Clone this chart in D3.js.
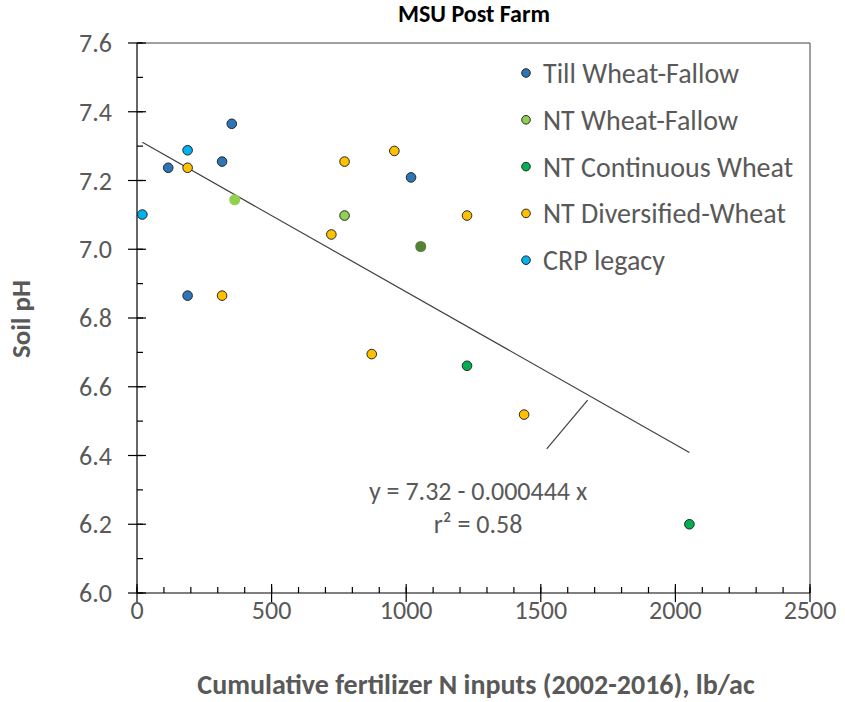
<!DOCTYPE html>
<html>
<head>
<meta charset="utf-8">
<script src="https://cdn.jsdelivr.net/npm/d3@7.9.0/dist/d3.min.js"></script>
<style>
  body { margin: 0; background: #fff; }
  svg { display: block; font-family: Carlito, Lato, sans-serif; }
</style>
</head>
<body>
<svg id="chart" width="845" height="702"></svg>
<script>
// series values
const seriesNames = ['Till Wheat-Fallow', 'NT Wheat-Fallow', 'NT Continuous Wheat', 'NT Diversified-Wheat', 'CRP legacy'];
const seriesColors = ['#2E75B6', '#92D050', '#00B050', '#FFC000', '#00B0F0'];

const tillX = [116, 352, 316, 188, 1018];
const tillY = [7.237, 7.365, 7.255, 6.865, 7.209];
const ntwfX = [771];
const ntwfY = [7.098];
const nccwX = [1226, 2052];
const nccwY = [6.661, 6.200];
const divX = [188, 316, 722, 771, 956, 1226, 872, 1438];
const divY = [7.237, 6.865, 7.043, 7.255, 7.286, 7.098, 6.695, 6.519];
const crpX = [20, 188];
const crpY = [7.101, 7.288];

// extra points drawn without outline (not in legend)
const plainX = [363, 1054];
const plainY = [7.144, 7.008];
const plainColors = ['#92D050', '#548235'];

const xTicks = [0, 500, 1000, 1500, 2000, 2500];
const yTicks = [6.0, 6.2, 6.4, 6.6, 6.8, 7.0, 7.2, 7.4, 7.6];

// trend line y = 7.32 - 0.000444 x
const intercept = 7.32, slope = -0.000444;
const trendX = [20, 2052];

const svg = d3.select('#chart');
const textColor = '#595959';

const x = d3.scaleLinear().domain([0, 2500]).range([137, 810]);
const y = d3.scaleLinear().domain([6, 7.6]).range([593, 43]);

// frame (top + right)
svg.append('path')
  .attr('d', `M${x(0)},${y(7.6)}H${x(2500)}V${y(6)}`)
  .attr('fill', 'none').attr('stroke', '#404040').attr('stroke-width', 1);

// minor ticks
const g = svg.append('g').attr('stroke', '#000').attr('stroke-width', 1.2);
d3.range(0, 2501, 100).forEach(v => {
  g.append('line').attr('x1', x(v)).attr('x2', x(v)).attr('y1', y(6)).attr('y2', y(6) - 6);
});
d3.range(60, 77, 1).forEach(k => {
  const v = k / 10;
  g.append('line').attr('x1', x(0)).attr('x2', x(0) + 6).attr('y1', y(v)).attr('y2', y(v));
});
// major ticks crossing the axes
xTicks.forEach(v => {
  g.append('line').attr('x1', x(v)).attr('x2', x(v)).attr('y1', y(6) - 9).attr('y2', y(6) + 9);
});
yTicks.forEach(v => {
  g.append('line').attr('x1', x(0) - 9).attr('x2', x(0) + 9).attr('y1', y(v)).attr('y2', y(v));
});
// axis lines
g.append('line').attr('x1', x(0)).attr('x2', x(2500)).attr('y1', y(6)).attr('y2', y(6));
g.append('line').attr('x1', x(0)).attr('x2', x(0)).attr('y1', y(6)).attr('y2', y(7.6));

// tick labels
svg.append('g').selectAll('text').data(xTicks).join('text')
  .attr('x', d => x(d)).attr('y', 619)
  .attr('text-anchor', 'middle').attr('font-size', 26).attr('fill', textColor)
  .text(d => d);
svg.append('g').selectAll('text').data(yTicks).join('text')
  .attr('x', 112).attr('y', d => y(d) + 9)
  .attr('text-anchor', 'end').attr('font-size', 26).attr('fill', textColor)
  .text(d => d.toFixed(1));

// titles
svg.append('text').attr('x', 474).attr('y', 22).attr('text-anchor', 'middle')
  .attr('font-size', 24).attr('font-weight', 'bold').attr('fill', '#000')
  .text('MSU Post Farm');
svg.append('text').attr('x', 476).attr('y', 694).attr('text-anchor', 'middle')
  .attr('font-size', 28).attr('font-weight', 'bold').attr('fill', textColor)
  .text('Cumulative fertilizer N inputs (2002-2016),  lb/ac');
svg.append('text').attr('transform', 'translate(30,319) rotate(-90)').attr('text-anchor', 'middle')
  .attr('font-size', 27).attr('font-weight', 'bold').attr('fill', textColor)
  .text('Soil pH');

// trend line
svg.append('line')
  .attr('x1', x(trendX[0])).attr('y1', y(intercept + slope * trendX[0]))
  .attr('x2', x(trendX[1])).attr('y2', y(intercept + slope * trendX[1]))
  .attr('stroke', '#404040').attr('stroke-width', 1.2);

// equation label + leader
svg.append('line')
  .attr('x1', x(1674)).attr('y1', y(6.561)).attr('x2', x(1522)).attr('y2', y(6.419))
  .attr('stroke', '#404040').attr('stroke-width', 1.2);
svg.append('text').attr('x', x(1267)).attr('y', 500).attr('text-anchor', 'middle')
  .attr('font-size', 26).attr('fill', textColor).text('y = 7.32 - 0.000444 x');
svg.append('text').attr('x', x(1267)).attr('y', 533).attr('text-anchor', 'middle')
  .attr('font-size', 26).attr('fill', textColor).text('r² = 0.58');

// points
const series = [
  [tillX, tillY], [ntwfX, ntwfY], [nccwX, nccwY], [divX, divY], [crpX, crpY]
];
const pts = [];
series.forEach(([xs, ys], i) => xs.forEach((v, j) => pts.push({ x: v, y: ys[j], c: seriesColors[i] })));

svg.append('g').selectAll('circle').data(plainX.map((v, j) => ({ x: v, y: plainY[j], c: plainColors[j] })))
  .join('circle')
  .attr('cx', d => x(d.x)).attr('cy', d => y(d.y)).attr('r', 5.5)
  .attr('fill', d => d.c);

svg.append('g').selectAll('circle').data(pts).join('circle')
  .attr('cx', d => x(d.x)).attr('cy', d => y(d.y)).attr('r', 4.8)
  .attr('fill', d => d.c).attr('stroke', '#262626').attr('stroke-width', 1);

// legend
const legend = svg.append('g');
seriesNames.forEach((name, i) => {
  const ly = 73 + i * 46.8;
  legend.append('circle').attr('cx', 526).attr('cy', ly).attr('r', 4.3)
    .attr('fill', seriesColors[i]).attr('stroke', '#262626').attr('stroke-width', 1);
  legend.append('text').attr('x', 543).attr('y', ly + 10)
    .attr('font-size', 28).attr('fill', textColor).text(name);
});
</script>
</body>
</html>
